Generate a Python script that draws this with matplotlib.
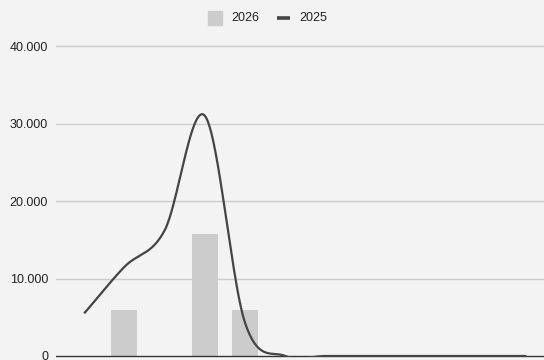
import numpy as np
import matplotlib
matplotlib.use("Agg")
import matplotlib.pyplot as plt
from matplotlib.ticker import FuncFormatter, FixedLocator
from matplotlib.patches import Rectangle
from matplotlib.lines import Line2D

# ---- data ----
categories = ["jan", "fev", "mar", "abr", "mai", "jun", "jul", "ago", "set", "out", "nov", "dez"]
values_2026 = [0, 6000, 0, 15700, 6000, 0, 0, 0, 0, 0, 0, 0]
values_2025 = [5500, 11500, 16200, 31000, 4300, 0, 0, 0, 0, 0, 0, 0]
n_2025_points = 12
y_ticks = [0, 10000, 20000, 30000, 40000]
series_names = ["2026", "2025"]

BG = "#f3f3f3"
BAR_C = "#cccccc"
LINE_C = "#444444"
GRID_C = "#cccccc"
TXT_C = "#222222"
FONT = "Liberation Sans"

W, H = 544, 360
fig = plt.figure(figsize=(W / 100, H / 100), dpi=100, facecolor=BG)

# axes geometry in pixels
ax_left_px, ax_right_px = 55.5, 544
ax_top_px, ax_bot_px = 40, 360
y0_px, y40_px = 356, 46
ax = fig.add_axes([ax_left_px / W, 1 - ax_bot_px / H,
                   (ax_right_px - ax_left_px) / W, (ax_bot_px - ax_top_px) / H])
ax.set_facecolor(BG)

per_px = 40000 / (y0_px - y40_px)
ax.set_ylim(-(ax_bot_px - y0_px) * per_px, 40000 + (y40_px - ax_top_px) * per_px)

cat0_px, cat_step_px = 84.2, 40.2
ax.set_xlim(-(cat0_px - ax_left_px) / cat_step_px, (ax_right_px - cat0_px) / cat_step_px)

for s in ax.spines.values():
    s.set_visible(False)

# gridlines
for t in y_ticks[1:]:
    ax.axhline(t, color=GRID_C, lw=1.0, zorder=1)

x = np.arange(len(categories))

# bars
ax.bar(x, values_2026, width=26 / cat_step_px, color=BAR_C, zorder=2)

# baseline
ax.axhline(0, color="#333333", lw=1.0, zorder=3)

# smooth line (cubic Hermite / Catmull-Rom through the data points)
p = np.array(values_2025[:n_2025_points], dtype=float)
xs_pts = x[:n_2025_points].astype(float)
m = np.zeros_like(p)
m[1:-1] = (p[2:] - p[:-2]) / 2
m[0] = (p[1] - p[0])
m[-1] = (p[-1] - p[-2])
xx, yy = [], []
for i in range(len(p) - 1):
    t = np.linspace(0, 1, 60)
    h00 = 2 * t**3 - 3 * t**2 + 1
    h10 = t**3 - 2 * t**2 + t
    h01 = -2 * t**3 + 3 * t**2
    h11 = t**3 - t**2
    yy.extend(h00 * p[i] + h10 * m[i] + h01 * p[i + 1] + h11 * m[i + 1])
    xx.extend(xs_pts[i] + t)
line, = ax.plot(xx, yy, color=LINE_C, lw=1.6, zorder=4, solid_capstyle="butt")
clip = Rectangle((-5, -1 * per_px), 30, 60000, transform=ax.transData)
line.set_clip_path(clip)

# ticks
ax.xaxis.set_visible(False)
ax.yaxis.set_major_locator(FixedLocator(y_ticks))
ax.yaxis.set_major_formatter(FuncFormatter(lambda v, _: f"{int(v):,}".replace(",", ".")))
ax.tick_params(axis="y", length=0, pad=5.4, labelsize=9, labelcolor=TXT_C)
for lab in ax.get_yticklabels():
    lab.set_fontfamily(FONT)

# legend (manual, top center)
fig.patches.append(Rectangle((208 / W, 1 - 25 / H), 14 / W, 14 / H,
                             transform=fig.transFigure, color=BAR_C, figure=fig))
fig.text(231 / W, 1 - 18 / H, series_names[0], ha="left", va="center",
         fontsize=9, color=TXT_C, family=FONT)
fig.lines.append(Line2D([277 / W, 290 / W], [1 - 17.5 / H, 1 - 17.5 / H],
                        transform=fig.transFigure, color=LINE_C, lw=2.6,
                        solid_capstyle="butt", figure=fig))
fig.text(299 / W, 1 - 18 / H, series_names[1], ha="left", va="center",
         fontsize=9, color=TXT_C, family=FONT)

fig.savefig("out.png", dpi=100, facecolor=BG)
